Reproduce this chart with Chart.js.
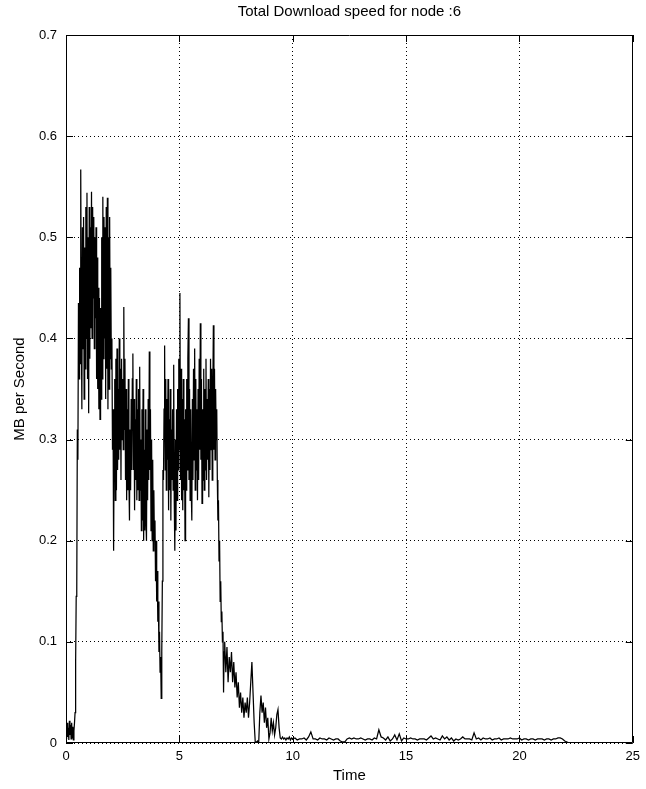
<!DOCTYPE html>
<html lang="en">
<head>
<meta charset="UTF-8">
<title>Total Download speed for node :6</title>
<style>
    html, body { margin: 0; padding: 0; background: #fff; }
    #wrap { width: 646px; height: 789px; }
</style>
</head>
<body>
<div id="wrap"><canvas id="speedChart" width="646" height="789"></canvas></div>
<script src="https://cdn.jsdelivr.net/npm/chart.js@4.4.1/dist/chart.umd.min.js"></script>
<script>
    // download speed (MB/s) during the busy phase, one sample every 0.025 from t = 0
    const fastStart = 0;
    const fastStep = 0.025;
    const fastSpeed = [
        0.012, 0.004, 0.020, 0.006, 0.015, 0.003, 0.022, 0.008, 0.018, 0.004,
        0.020, 0.005, 0.016, 0.003, 0.012, 0.020, 0.030, 0.080, 0.145, 0.150,
        0.310, 0.280, 0.435, 0.360, 0.470, 0.375, 0.567, 0.420, 0.330, 0.510,
        0.390, 0.520, 0.340, 0.490, 0.370, 0.530, 0.400, 0.544, 0.360, 0.500,
        0.326, 0.530, 0.380, 0.510, 0.410, 0.545, 0.400, 0.530, 0.440, 0.520,
        0.390, 0.500, 0.420, 0.510, 0.360, 0.480, 0.350, 0.450, 0.330, 0.440,
        0.320, 0.430, 0.340, 0.500, 0.360, 0.540, 0.380, 0.520, 0.400, 0.510,
        0.340, 0.530, 0.370, 0.539, 0.330, 0.500, 0.350, 0.520, 0.380, 0.470,
        0.370, 0.400, 0.290, 0.330, 0.190, 0.300, 0.360, 0.240, 0.380, 0.250,
        0.390, 0.270, 0.350, 0.280, 0.400, 0.290, 0.370, 0.260, 0.380, 0.300,
        0.360, 0.290, 0.431, 0.310, 0.380, 0.260, 0.350, 0.240, 0.330, 0.250,
        0.360, 0.260, 0.220, 0.310, 0.250, 0.340, 0.270, 0.360, 0.385, 0.270,
        0.340, 0.230, 0.320, 0.260, 0.360, 0.240, 0.330, 0.250, 0.350, 0.240,
        0.372, 0.250, 0.300, 0.210, 0.330, 0.220, 0.350, 0.200, 0.290, 0.210,
        0.330, 0.220, 0.200, 0.310, 0.240, 0.340, 0.260, 0.387, 0.270, 0.330,
        0.210, 0.300, 0.200, 0.280, 0.190, 0.250, 0.200, 0.220, 0.160, 0.200,
        0.140, 0.170, 0.120, 0.140, 0.090, 0.110, 0.070, 0.085, 0.044, 0.090,
        0.160, 0.270, 0.260, 0.330, 0.393, 0.270, 0.360, 0.250, 0.340, 0.280,
        0.360, 0.230, 0.320, 0.250, 0.350, 0.220, 0.310, 0.260, 0.330, 0.250,
        0.374, 0.240, 0.190, 0.300, 0.210, 0.330, 0.240, 0.350, 0.270, 0.380,
        0.290, 0.445, 0.260, 0.370, 0.240, 0.340, 0.230, 0.360, 0.250, 0.320,
        0.200, 0.330, 0.250, 0.360, 0.270, 0.380, 0.420, 0.260, 0.350, 0.240,
        0.330, 0.250, 0.220, 0.340, 0.260, 0.370, 0.280, 0.390, 0.250, 0.360,
        0.270, 0.330, 0.240, 0.350, 0.260, 0.380, 0.290, 0.415, 0.280, 0.360,
        0.237, 0.330, 0.260, 0.370, 0.250, 0.350, 0.270, 0.380, 0.260, 0.340,
        0.280, 0.360, 0.243, 0.350, 0.270, 0.380, 0.290, 0.370, 0.260, 0.340,
        0.413, 0.290, 0.370, 0.280, 0.350, 0.300, 0.330, 0.260, 0.220, 0.240,
        0.180, 0.200, 0.140, 0.160, 0.120, 0.130, 0.100, 0.110, 0.050, 0.090
    ];

    // the slow-down between t = 7 and t = 10, one sample every 0.05
    const midStart = 7.0;
    const midStep = 0.05;
    const midSpeed = [
        0.100, 0.070, 0.095, 0.060, 0.085, 0.070, 0.090, 0.060, 0.080, 0.055,
        0.070, 0.045, 0.060, 0.035, 0.050, 0.030, 0.045, 0.025, 0.040, 0.030,
        0.045, 0.025, 0.040, 0.060, 0.080, 0.050, 0.020, 0.000, 0.001, 0.002,
        0.000, 0.030, 0.047, 0.030, 0.040, 0.020, 0.035, 0.015, 0.025, 0.004,
        0.010, 0.025, 0.012, 0.020, 0.008, 0.015, 0.028, 0.033, 0.015, 0.005,
        0.004, 0.006, 0.004, 0.005, 0.003, 0.005, 0.004, 0.006, 0.003, 0.005,
        0.004
    ];

    // trickle after t = 10, one sample every 0.1
    const tailStart = 10.1;
    const tailStep = 0.1;
    const tailSpeed = [
        0.005, 0.003, 0.004, 0.004, 0.005, 0.003, 0.006, 0.011, 0.004, 0.004,
        0.003, 0.005, 0.004, 0.004, 0.003, 0.005, 0.004, 0.003, 0.004, 0.004,
        0.002, 0.001, 0.001, 0.004, 0.005, 0.004, 0.005, 0.004, 0.004, 0.005,
        0.004, 0.003, 0.004, 0.004, 0.003, 0.005, 0.004, 0.013, 0.006, 0.005,
        0.003, 0.006, 0.002, 0.004, 0.008, 0.003, 0.009, 0.002, 0.005, 0.004,
        0.004, 0.005, 0.004, 0.004, 0.003, 0.004, 0.004, 0.004, 0.003, 0.005,
        0.007, 0.004, 0.005, 0.004, 0.003, 0.007, 0.004, 0.006, 0.003, 0.005,
        0.002, 0.004, 0.003, 0.004, 0.006, 0.004, 0.004, 0.004, 0.003, 0.010,
        0.004, 0.005, 0.003, 0.005, 0.004, 0.004, 0.005, 0.003, 0.004, 0.004,
        0.005, 0.003, 0.004, 0.004, 0.004, 0.005, 0.004, 0.004, 0.004, 0.005,
        0.003, 0.004, 0.004, 0.003, 0.004, 0.004, 0.003, 0.004, 0.004, 0.004,
        0.003, 0.004, 0.004, 0.003, 0.004, 0.004, 0.005, 0.005, 0.004, 0.002,
        0.001, 0.000
    ];

    const xTicks = [0, 5, 10, 15, 20, 25];
    const yTicks = [0, 0.1, 0.2, 0.3, 0.4, 0.5, 0.6, 0.7];

    const points = [];
    const addRun = (start, step, values) => values.forEach((v, i) => {
        points.push({ x: +(start + i * step).toFixed(3), y: v });
    });
    addRun(fastStart, fastStep, fastSpeed);
    addRun(midStart, midStep, midSpeed);
    addRun(tailStart, tailStep, tailSpeed);

    const FONT = '"Liberation Sans", Arial, Helvetica, sans-serif';

    // solid axes box with short inward tick marks on all four sides
    const boxPlugin = {
        id: 'box',
        afterDraw(chart) {
            const { ctx, chartArea: a, scales } = chart;
            const len = 7;
            ctx.save();
            ctx.strokeStyle = '#000';
            ctx.lineWidth = 1;
            ctx.beginPath();
            ctx.rect(Math.round(a.left) + 0.5, Math.round(a.top) + 0.5,
                     Math.round(a.right - a.left) - 1, Math.round(a.bottom - a.top) - 1);
            xTicks.forEach(t => {
                const px = Math.round(scales.x.getPixelForValue(t)) + 0.5;
                ctx.moveTo(px, a.bottom);
                ctx.lineTo(px, a.bottom - len);
                ctx.moveTo(px, a.top);
                ctx.lineTo(px, a.top + len);
            });
            yTicks.forEach(t => {
                const py = Math.round(scales.y.getPixelForValue(t)) + 0.5;
                ctx.moveTo(a.left, py);
                ctx.lineTo(a.left + len, py);
                ctx.moveTo(a.right, py);
                ctx.lineTo(a.right - len, py);
            });
            ctx.stroke();
            ctx.restore();
        }
    };

    new Chart(document.getElementById('speedChart'), {
        type: 'line',
        data: {
            datasets: [{
                data: points,
                borderColor: '#000',
                borderWidth: 1.25,
                pointRadius: 0,
                tension: 0,
                fill: false
            }]
        },
        options: {
            responsive: false,
            devicePixelRatio: 1,
            animation: false,
            layout: { padding: { top: 0, right: 10, bottom: 0, left: 0 } },
            plugins: {
                legend: { display: false },
                tooltip: { enabled: false },
                title: {
                    display: true,
                    text: 'Total Download speed for node :6',
                    color: '#000',
                    fullSize: false,
                    font: { family: FONT, size: 15, weight: 'normal' },
                    padding: { top: 3, bottom: 14 }
                }
            },
            scales: {
                x: {
                    type: 'linear',
                    min: 0,
                    max: 25,
                    afterBuildTicks: s => { s.ticks = xTicks.map(v => ({ value: v })); },
                    afterFit: s => { s.height = 46; },
                    grid: { color: '#000', lineWidth: 1, drawTicks: false },
                    border: { display: false, dash: [1, 3] },
                    ticks: {
                        color: '#000',
                        padding: 6,
                        maxRotation: 0,
                        font: { family: FONT, size: 13 }
                    },
                    title: {
                        display: true,
                        text: 'Time',
                        color: '#000',
                        font: { family: FONT, size: 15 },
                        padding: { top: 0, bottom: 4 }
                    }
                },
                y: {
                    type: 'linear',
                    min: 0,
                    max: 0.7,
                    afterBuildTicks: s => { s.ticks = yTicks.map(v => ({ value: v })); },
                    afterFit: s => { s.width = 66; },
                    grid: { color: '#000', lineWidth: 1, drawTicks: false },
                    border: { display: false, dash: [1, 3] },
                    ticks: {
                        color: '#000',
                        padding: 9,
                        font: { family: FONT, size: 13 },
                        callback: v => String(+v.toFixed(1))
                    },
                    title: {
                        display: true,
                        text: 'MB per Second',
                        color: '#000',
                        font: { family: FONT, size: 15 },
                        padding: { top: 11, bottom: 0 }
                    }
                }
            }
        },
        plugins: [boxPlugin]
    });
</script>
</body>
</html>
